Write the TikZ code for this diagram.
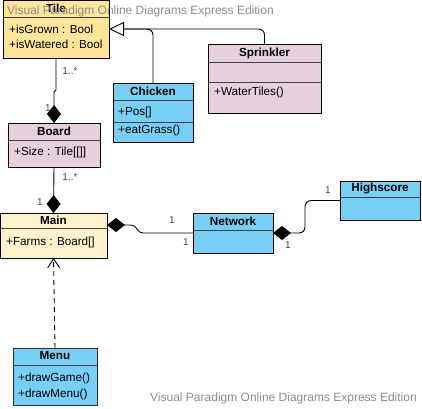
\documentclass[tikz,border=0pt]{standalone}
\usepackage{fontspec}
\setmainfont{Liberation Sans}
\usetikzlibrary{arrows.meta,calc}
\definecolor{tilefill}{HTML}{FFE599}
\definecolor{mainfill}{HTML}{FFF2CC}
\definecolor{pinkfill}{HTML}{E6D0DE}
\definecolor{bluefill}{HTML}{78CFF5}
\definecolor{marktext}{HTML}{8C8C8C}
\definecolor{multtext}{HTML}{444444}

\begin{document}
\begin{tikzpicture}[
  x=1pt, y=-1pt,
  classbox/.style={draw, line width=0.9pt, anchor=north west, inner sep=0pt, outer sep=0pt},
  sep/.style={line width=0.9pt, draw=black!75},
  title/.style={font=\fontsize{11.7}{12}\selectfont\bfseries, inner sep=0pt},
  member/.style={font=\fontsize{11.7}{12}\selectfont, anchor=west, inner sep=0pt},
  mult/.style={font=\fontsize{10}{11}\selectfont, text=multtext, inner sep=0pt},
  link/.style={line width=0.9pt},
  comp/.style={link, -{Diamond[length=18pt, width=14pt]}},
  inherit/.style={link, -{Triangle[open, length=15pt, width=14pt, fill=white]}},
  depend/.style={link, dashed, dash pattern=on 5pt off 4pt, -{Straight Barb[length=9pt, width=12pt]}},
  watermark/.style={font=\fontsize{12}{13}\selectfont, text=marktext, inner sep=0pt, anchor=west}
]
\useasboundingbox (0,0) rectangle (422,408);

% classes
\node[classbox, fill=tilefill, minimum width=106pt, minimum height=58pt] (tile) at (3,0) {};
\node[classbox, fill=pinkfill, minimum width=92pt, minimum height=44pt] (board) at (8,123) {};
\node[classbox, fill=bluefill, minimum width=80pt, minimum height=59pt] (chicken) at (113,83) {};
\node[classbox, fill=pinkfill, minimum width=113pt, minimum height=69pt] (sprinkler) at (208,44) {};
\node[classbox, fill=mainfill, minimum width=107pt, minimum height=45pt] (main) at (0,213) {};
\node[classbox, fill=bluefill, minimum width=80pt, minimum height=40pt] (network) at (193,213) {};
\node[classbox, fill=bluefill, minimum width=80pt, minimum height=39pt] (highscore) at (340,181) {};
\node[classbox, fill=bluefill, minimum width=84pt, minimum height=57pt, draw=black!80] (menu) at (13,348) {};

% Tile
\draw[sep] ($(tile.north west)+(0,17)$) -- ($(tile.north east)+(0,17)$);
\node[title] at ($(tile.north)+(0,8)$) {Tile};
\node[member] at ($(tile.north west)+(6,29)$) {+isGrown : Bool};
\node[member] at ($(tile.north west)+(6,44)$) {+isWatered : Bool};

% Board
\draw[sep] ($(board.north west)+(0,17)$) -- ($(board.north east)+(0,17)$);
\node[title] at ($(board.north)+(0,8.5)$) {Board};
\node[member] at ($(board.north west)+(6,29)$) {+Size : Tile[[]]};

% Chicken
\draw[sep] ($(chicken.north west)+(0,17)$) -- ($(chicken.north east)+(0,17)$);
\draw[sep] ($(chicken.north west)+(0,39)$) -- ($(chicken.north east)+(0,39)$);
\node[title] at ($(chicken.north)+(0,8.5)$) {Chicken};
\node[member] at ($(chicken.north west)+(5,29)$) {+Pos[]};
\node[member] at ($(chicken.north west)+(5,47)$) {+eatGrass()};

% Sprinkler
\draw[sep] ($(sprinkler.north west)+(0,18)$) -- ($(sprinkler.north east)+(0,18)$);
\draw[sep] ($(sprinkler.north west)+(0,38)$) -- ($(sprinkler.north east)+(0,38)$);
\node[title] at ($(sprinkler.north)+(0,9)$) {Sprinkler};
\node[member] at ($(sprinkler.north west)+(6,48)$) {+WaterTiles()};

% Main
\draw[sep] ($(main.north west)+(0,15)$) -- ($(main.north east)+(0,15)$);
\node[title] at ($(main.north)+(0,7.5)$) {Main};
\node[member] at ($(main.north west)+(6,29)$) {+Farms : Board[]};

% Network
\draw[sep] ($(network.north west)+(0,17)$) -- ($(network.north east)+(0,17)$);
\node[title] at ($(network.north)+(0,8)$) {Network};

% Highscore
\draw[sep] ($(highscore.north west)+(0,16)$) -- ($(highscore.north east)+(0,16)$);
\node[title] at ($(highscore.north)+(0,7.5)$) {Highscore};

% Menu
\draw[sep] ($(menu.north west)+(0,17)$) -- ($(menu.north east)+(0,17)$);
\node[title] at ($(menu.north)+(0,8)$) {Menu};
\node[member] at ($(menu.north west)+(5,30)$) {+drawGame()};
\node[member] at ($(menu.north west)+(5,46)$) {+drawMenu()};

% connectors
\draw[link, rounded corners=6pt] (sprinkler.north) |- ($(tile.east)+(14,0)$);
\draw[inherit, rounded corners=6pt] (chicken.north) |- (tile.east);
\draw[comp] (tile.south) -- ++(0,32) -- ($(board.north)+(0,-31)$) -- (board.north);
\draw[comp] (board.south) -- (main.north);
\draw[link, {Diamond[length=18pt, width=14pt]}-, rounded corners=4pt]
  ($(main.north east)+(0,12)$) -- ++(28,0) -- ++(4,8) -- (network.west);
\draw[link, {Diamond[length=18pt, width=14pt]}-, rounded corners=6pt]
  (network.east) -- ++(32,0) |- (highscore.west);
\draw[depend] (menu.north) -- (main.south);

% multiplicities
\node[mult] at (70,71) {1..*};
\node[mult] at (48,108) {1};
\node[mult] at (70,177) {1..*};
\node[mult] at (40,202) {1};
\node[mult] at (172,220) {1};
\node[mult] at (186,242) {1};
\node[mult] at (328,190) {1};
\node[mult] at (288,245) {1};

% watermarks
\node[watermark] at (7,11) {Visual Paradigm Online Diagrams Express Edition};
\node[watermark] at (150,398) {Visual Paradigm Online Diagrams Express Edition};
\end{tikzpicture}
\end{document}
